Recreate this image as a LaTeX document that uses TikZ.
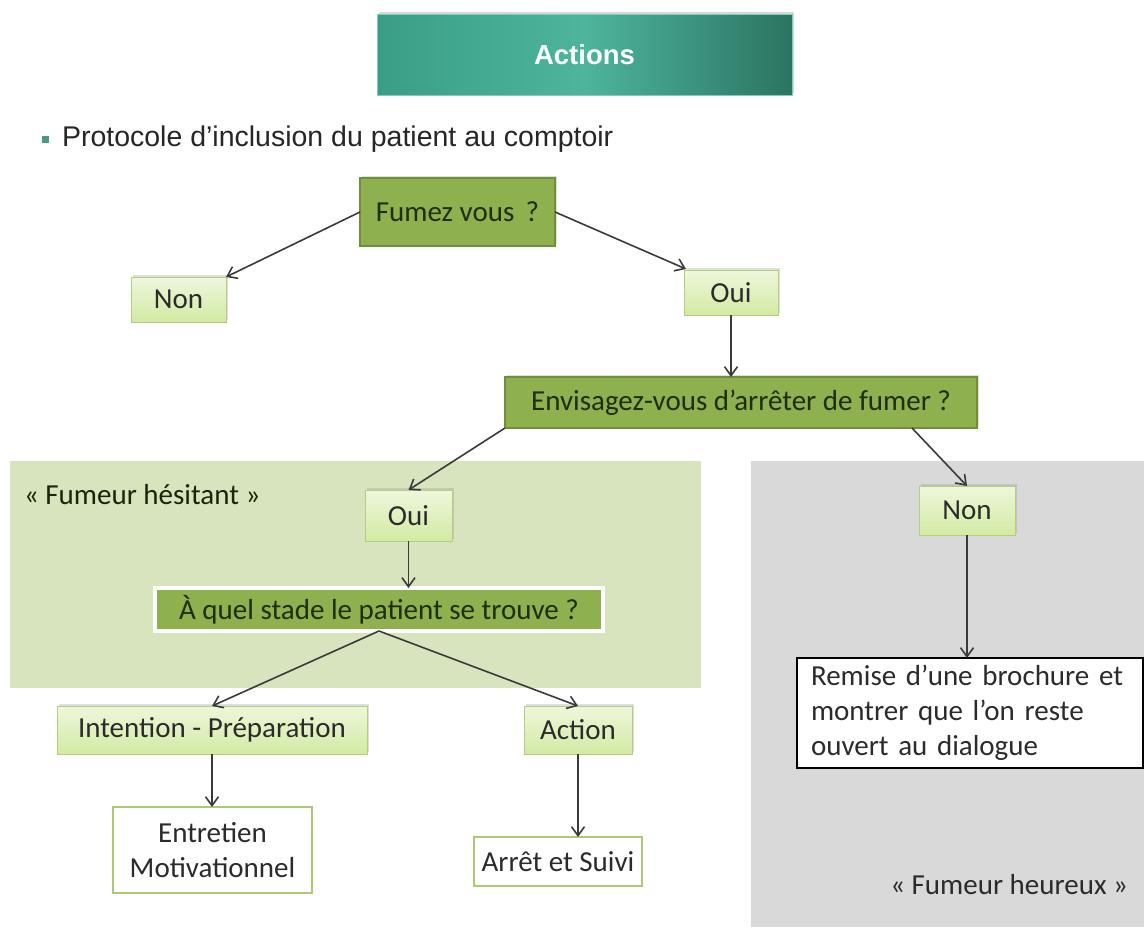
\documentclass[tikz,border=0pt]{standalone}
\usepackage{fontspec}
\setmainfont{Carlito}
\newfontfamily\arial{Liberation Sans}
\usetikzlibrary{arrows.meta,shadows,calc}
\definecolor{dgreen}{HTML}{8EB04E}
\definecolor{dgreenb}{HTML}{6F8F38}
\definecolor{lgtop}{HTML}{EEF7DC}
\definecolor{lgbot}{HTML}{D2EAA3}
\definecolor{lgborder}{HTML}{B3CF7C}
\definecolor{panelg}{HTML}{D7E4BD}
\definecolor{panelgray}{HTML}{D9D9D9}
\definecolor{tealL}{HTML}{3A9E86}
\definecolor{tealM}{HTML}{4DB59C}
\definecolor{tealR}{HTML}{2C7462}
\definecolor{txtd}{HTML}{1E2E0E}
\definecolor{txtg}{HTML}{2B2B2B}
\definecolor{arrowc}{HTML}{3A3A3A}
\begin{document}
\begin{tikzpicture}[x=1pt,y=-1pt,
  every node/.style={inner sep=0pt,outer sep=0pt},
  txt/.style={font=\fontsize{29}{35}\selectfont},
  darkbox/.style={txt,draw=dgreenb,line width=1.2pt,fill=dgreen,text=txtd,
    drop shadow={opacity=0.25,shadow xshift=2pt,shadow yshift=2pt}},
  lightbox/.style={txt,draw=lgborder,line width=1pt,top color=lgtop,bottom color=lgbot,text=txtg,
    drop shadow={opacity=0.25,shadow xshift=2pt,shadow yshift=2pt}},
  whitebox/.style={txt,draw=lgborder!80!dgreen,line width=1.8pt,fill=white,text=txtg},
  conn/.style={draw=arrowc,line width=1.6pt,-{Straight Barb[length=9pt,width=13pt,line width=1.6pt]}}
]
\useasboundingbox (0,0) rectangle (1144,927);
\fill[white] (0,0) rectangle (1144,927);
% panels
\fill[panelg] (10,461) rectangle (701,688);
\fill[panelgray] (751,461) rectangle (1144,927);
% title
\node[minimum width=415pt,minimum height=81pt,left color=tealL,right color=tealR,middle color=tealM,
  draw=tealM!70!white,line width=0.8pt,
  drop shadow={opacity=0.3,shadow xshift=2pt,shadow yshift=2pt},
  font=\arial\bfseries\fontsize{27.5}{32}\selectfont,text=white] (title) at (584.5,54.5) {Actions};
% subtitle
\fill[tealL!80!gray] (42,136) rectangle (49,143);
\node[anchor=west,font=\arial\fontsize{28.5}{34}\selectfont,text=black!85] (sub) at (62,139) {Protocole d’inclusion du patient au comptoir};
% nodes
\node[darkbox,minimum width=195pt,minimum height=68pt] (fumez) at (457.5,212) {Fumez vous\, ?};
\node[lightbox,minimum width=95pt,minimum height=45pt] (nonl) at (178.5,299.5) {Non};
\node[lightbox,minimum width=94pt,minimum height=45pt] (ouit) at (731,292.5) {Oui};
\node[darkbox,minimum width=472pt,minimum height=51pt] (env) at (741,402.5) {Envisagez-vous d’arrêter de fumer ?};
\node[anchor=west,txt,text=txtd!80!black] (hes) at (24,495) {« Fumeur hésitant »};
\node[lightbox,minimum width=87pt,minimum height=51pt] (ouim) at (408.5,515.5) {Oui};
\node[darkbox,minimum width=448pt,minimum height=43pt,draw=white,line width=4pt,
  drop shadow={opacity=0.25,shadow xshift=2pt,shadow yshift=2pt}] (stade) at (379,609.5) {À quel stade le patient se trouve ?};
\node[lightbox,minimum width=96pt,minimum height=49pt] (nonr) at (967,510.5) {Non};
\node[txt,draw=black,line width=2pt,fill=white,text=txtg,minimum width=346pt,minimum height=110pt,
  align=left,text width=318pt] (remise) at (970,713) {Remise d’une brochure et\\montrer que l’on reste\\ouvert au dialogue};
\node[lightbox,minimum width=310pt,minimum height=48pt] (inten) at (212,730) {Intention - Préparation};
\node[lightbox,minimum width=108pt,minimum height=48pt] (action) at (578,730) {Action};
\node[whitebox,minimum width=199pt,minimum height=86pt,align=center] (entre) at (212.5,850) {Entretien\\Motivationnel};
\node[whitebox,minimum width=168pt,minimum height=49pt] (arret) at (558,861.5) {Arrêt et Suivi};
\node[anchor=east,txt,text=txtg] (heur) at (1128,885) {« Fumeur heureux »};
% connectors
\draw[conn] (fumez.west) -- (nonl.north east);
\draw[conn] (fumez.east) -- ($(ouit.north west)+(2,-1)$);
\draw[conn] (ouit.south) -- (ouit.south |- env.north);
\draw[conn] (env.south west) -- (ouim.north);
\draw[conn] ($(env.south east)+(-65,0)$) -- (nonr.north);
\draw[conn] (ouim.south) -- (ouim.south |- stade.north);
\draw[conn] (stade.south) -- (inten.north);
\draw[conn] (stade.south) -- (action.north);
\draw[conn] (inten.south) -- (inten.south |- entre.north);
\draw[conn] (action.south) -- (action.south |- arret.north);
\draw[conn] (nonr.south) -- (nonr.south |- remise.north);
\end{tikzpicture}
\end{document}
